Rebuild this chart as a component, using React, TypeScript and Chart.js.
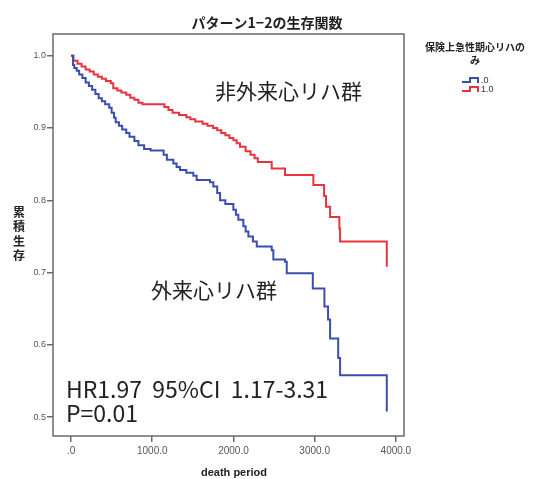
import React, { useEffect, useRef } from "react";
import { Chart, registerables } from "chart.js";

Chart.register(...registerables);

const chartTitle = "パターン1−2の生存関数";
const xTitle = "death period";
const yTitle = "累積生存";
const legendTitle = ["保険上急性期心リハの", "み"];
const seriesLabels = [".0", "1.0"];
const seriesColors = ["#3b4db0", "#e8333d"];
const xTicks = [0, 1000, 2000, 3000, 4000];
const yTicks = [0.5, 0.6, 0.7, 0.8, 0.9, 1.0];

// group .0 (外来心リハ群) – event times and survival
const blueTimes = [0, 25, 40, 70, 100, 140, 180, 220, 260, 300, 340, 380, 420, 470, 500, 530, 550, 590, 630, 680, 720, 780, 830, 900, 980, 1140, 1180, 1260, 1300, 1342, 1420, 1506, 1547, 1711, 1752, 1800, 1835, 1900, 1999, 2030, 2060, 2122, 2150, 2184, 2240, 2287, 2471, 2491, 2635, 2656, 2977, 3120, 3165, 3190, 3290, 3313, 3888];
const blueSurv = [1.0, 0.987, 0.983, 0.979, 0.974, 0.969, 0.963, 0.958, 0.953, 0.947, 0.941, 0.937, 0.933, 0.928, 0.921, 0.914, 0.908, 0.903, 0.898, 0.893, 0.888, 0.882, 0.876, 0.871, 0.869, 0.863, 0.856, 0.851, 0.846, 0.842, 0.838, 0.834, 0.828, 0.825, 0.819, 0.81, 0.8, 0.795, 0.787, 0.78, 0.773, 0.764, 0.757, 0.75, 0.743, 0.736, 0.731, 0.718, 0.715, 0.699, 0.678, 0.653, 0.635, 0.609, 0.582, 0.558, 0.508];

// group 1.0 (非外来心リハ群)
const redTimes = [0, 30, 80, 130, 180, 230, 280, 330, 380, 430, 490, 520, 570, 620, 680, 730, 780, 830, 880, 1150, 1200, 1250, 1330, 1420, 1470, 1530, 1620, 1680, 1750, 1800, 1850, 1900, 1950, 2000, 2040, 2080, 2150, 2210, 2260, 2300, 2471, 2635, 2984, 3116, 3140, 3190, 3304, 3313, 3888];
const redSurv = [1.0, 0.993, 0.989, 0.985, 0.981, 0.978, 0.974, 0.971, 0.968, 0.965, 0.962, 0.955, 0.952, 0.949, 0.946, 0.942, 0.939, 0.935, 0.933, 0.929, 0.925, 0.921, 0.918, 0.915, 0.912, 0.909, 0.906, 0.903, 0.9, 0.897, 0.893, 0.89, 0.886, 0.883, 0.879, 0.874, 0.868, 0.863, 0.858, 0.853, 0.844, 0.835, 0.821, 0.806, 0.791, 0.777, 0.761, 0.743, 0.708];

const annoRed = "非外来心リハ群";
const annoBlue = "外来心リハ群";
const statLines = ["HR1.97  95%CI  1.17-3.31", "P=0.01"];

const JP = '"Noto Sans CJK JP", "Noto Sans", sans-serif';
const LAT = '"Liberation Sans", Arial, sans-serif';

const toPoints = (t: number[], s: number[]) => t.map((v, i) => ({ x: v, y: s[i] }));

const decorPlugin = {
  id: "decor",
  afterDraw(chart: any) {
    const ctx = chart.ctx as CanvasRenderingContext2D;
    const a = chart.chartArea;
    ctx.save();
    // frame
    ctx.strokeStyle = "#6a6a6a";
    ctx.lineWidth = 1.5;
    ctx.strokeRect(a.left, a.top, a.right - a.left, a.bottom - a.top);

    // title
    ctx.fillStyle = "#222";
    ctx.textAlign = "center";
    ctx.textBaseline = "middle";
    ctx.font = `bold 14px ${JP}`;
    ctx.fillText(chartTitle, 267, 23);

    // x title
    ctx.font = `bold 11px ${LAT}`;
    ctx.fillText(xTitle, 234, 473);

    // y title stacked
    ctx.font = `bold 12px ${JP}`;
    const chars = Array.from(yTitle);
    chars.forEach((c, i) => ctx.fillText(c, 19, 212 + i * 14.5));

    // legend
    ctx.font = `bold 10px ${JP}`;
    ctx.fillText(legendTitle[0], 475, 47);
    ctx.fillText(legendTitle[1], 475, 60);
    ctx.font = `9px ${LAT}`;
    ctx.textAlign = "left";
    seriesLabels.forEach((lab, i) => {
      const y = 80 + i * 9;
      const x0 = 462;
      ctx.strokeStyle = seriesColors[i];
      ctx.lineWidth = 2;
      ctx.beginPath();
      ctx.moveTo(x0, y + 2);
      ctx.lineTo(x0 + 8, y + 2);
      ctx.lineTo(x0 + 8, y - 2);
      ctx.lineTo(x0 + 16, y - 2);
      ctx.lineTo(x0 + 16, y + 3);
      ctx.stroke();
      ctx.fillStyle = "#333";
      ctx.fillText(lab, x0 + 19, y + 1);
    });

    // annotations
    ctx.fillStyle = "#222";
    ctx.textBaseline = "middle";
    ctx.font = `21px ${JP}`;
    ctx.fillText(annoRed, 215, 91);
    ctx.fillText(annoBlue, 151, 290);
    ctx.textBaseline = "alphabetic";
    ctx.font = `23px ${JP}`;
    ctx.fillText(statLines[0], 66, 398);
    ctx.fillText(statLines[1], 66, 422);
    ctx.restore();
  },
};

export default function App() {
  const ref = useRef<HTMLCanvasElement>(null);
  useEffect(() => {
    if (!ref.current) return;
    const chart = new Chart(ref.current, {
      type: "line",
      data: {
        datasets: [
          {
            label: seriesLabels[0],
            data: toPoints(blueTimes, blueSurv),
            borderColor: seriesColors[0],
            borderWidth: 2,
            pointRadius: 0,
            stepped: "before",
            fill: false,
          },
          {
            label: seriesLabels[1],
            data: toPoints(redTimes, redSurv),
            borderColor: seriesColors[1],
            borderWidth: 2,
            pointRadius: 0,
            stepped: "before",
            fill: false,
          },
        ],
      },
      options: {
        animation: false,
        responsive: false,
        devicePixelRatio: 1,
        layout: { padding: { top: 34, right: 131, left: 0, bottom: 0 } },
        plugins: { legend: { display: false }, title: { display: false }, tooltip: { enabled: false } },
        scales: {
          x: {
            type: "linear",
            min: -222,
            max: 4100,
            afterBuildTicks: (s: any) => {
              s.ticks = xTicks.map((v) => ({ value: v }));
            },
            afterFit: (s: any) => {
              s.height = 43;
            },
            grid: { drawOnChartArea: false, drawTicks: true, tickLength: 6, color: "#6a6a6a", lineWidth: 1.5 },
            border: { display: false },
            ticks: {
              maxRotation: 0,
              padding: 3,
              color: "#555",
              font: { family: LAT, size: 10 },
              callback: (v: any) => (Number(v) === 0 ? ".0" : Number(v).toFixed(1)),
            },
          },
          y: {
            type: "linear",
            min: 0.474,
            max: 1.03,
            afterBuildTicks: (s: any) => {
              s.ticks = yTicks.map((v) => ({ value: v }));
            },
            afterFit: (s: any) => {
              s.width = 53;
            },
            grid: { drawOnChartArea: false, drawTicks: true, tickLength: 6, color: "#6a6a6a", lineWidth: 1.5 },
            border: { display: false },
            ticks: {
              padding: 1,
              color: "#555",
              font: { family: LAT, size: 9 },
              callback: (v: any) => Number(v).toFixed(1),
            },
          },
        },
      },
      plugins: [decorPlugin],
    });
    return () => chart.destroy();
  }, []);
  return (
    <div style={{ position: "absolute", left: 0, top: 0, width: 535, height: 479, background: "#fff" }}>
      <canvas ref={ref} width={535} height={479} />
    </div>
  );
}
